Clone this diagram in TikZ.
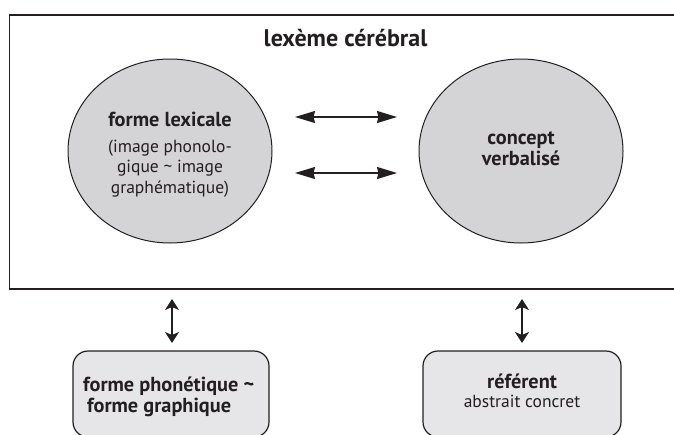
\documentclass[tikz,border=0pt]{standalone}
\usepackage{fontspec}
\setmainfont{PT Sans}
\usetikzlibrary{shapes.geometric,arrows.meta}
\definecolor{ellfill}{HTML}{D4D4D6}
\definecolor{boxfill}{HTML}{E6E6E8}
\definecolor{ink}{HTML}{231F20}
\tikzset{
  x=1pt,y=-1pt,
  ell/.style={ellipse,draw=ink,line width=1pt,fill=ellfill,minimum width=204pt,minimum height=184pt,inner sep=0pt},
  rbox/.style={draw=ink,line width=1.2pt,fill=boxfill,rounded corners=15pt},
  txb/.style={text=ink,inner sep=0pt,anchor=base,font=\fontsize{20.3}{24}\selectfont\bfseries},
  txr/.style={text=ink,inner sep=0pt,anchor=base,font=\fontsize{17.5}{21}\selectfont},
  dbl/.style={{Stealth[length=20pt,width=12pt,inset=1.5pt]}-{Stealth[length=20pt,width=12pt,inset=1.5pt]},line width=1.4pt,draw=ink},
  dblv/.style={{Stealth[length=11pt,width=14pt,inset=3pt]}-{Stealth[length=11pt,width=14pt,inset=3pt]},line width=1.4pt,draw=ink},
}
\begin{document}
\begin{tikzpicture}
\useasboundingbox (0,0) rectangle (674,434);
\clip (0,0) rectangle (674,434);
\fill[white] (0,0) rectangle (674,434);
% frame
\node[draw=ink,line width=1.7pt,minimum width=690pt,minimum height=274pt,anchor=north west,inner sep=0pt] (frame) at (8.5,14) {};
\node[txb,font=\fontsize{24}{28}\selectfont\bfseries] (title) at (345.5,46) {lexème cérébral};
% ellipses
\node[ell] (lex) at (170,151) {};
\node[ell] (con) at (521,151) {};
\node[txb] (lex1) at (170,126) {forme lexicale};
\node[txr] (lex2) at (170,152) {(image phonolo-};
\node[txr] (lex3) at (170,172.5) {gique \textasciitilde{} image};
\node[txr] (lex4) at (170,193) {graphématique)};
\node[txb] (con1) at (521,144.5) {concept};
\node[txb] (con2) at (521,165.5) {verbalisé};
% horizontal arrows
\coordinate (a1l) at (295,117);
\coordinate (a1r) at (397,117);
\coordinate (a2l) at (295,173);
\coordinate (a2r) at (397,173);
\draw[dbl] (a1l) -- (a1r);
\draw[dbl] (a2l) -- (a2r);
% bottom boxes
\draw[rbox] (73,351) rectangle (269,437);
\draw[rbox] (423,351) rectangle (621,437);
\node[txb,anchor=base west] (pho1) at (83,391) {forme phonétique \textasciitilde};
\node[txb,anchor=base west] (pho2) at (87,412) {forme graphique};
\node[txb] (ref1) at (522,388) {référent};
\node[txr] (ref2) at (522,407.5) {abstrait concret};
% vertical arrows
\coordinate (v1t) at (172,299);
\coordinate (v1b) at (172,343);
\coordinate (v2t) at (522,299);
\coordinate (v2b) at (522,343);
\draw[dblv] (v1t) -- (v1b);
\draw[dblv] (v2t) -- (v2b);
\end{tikzpicture}
\end{document}
